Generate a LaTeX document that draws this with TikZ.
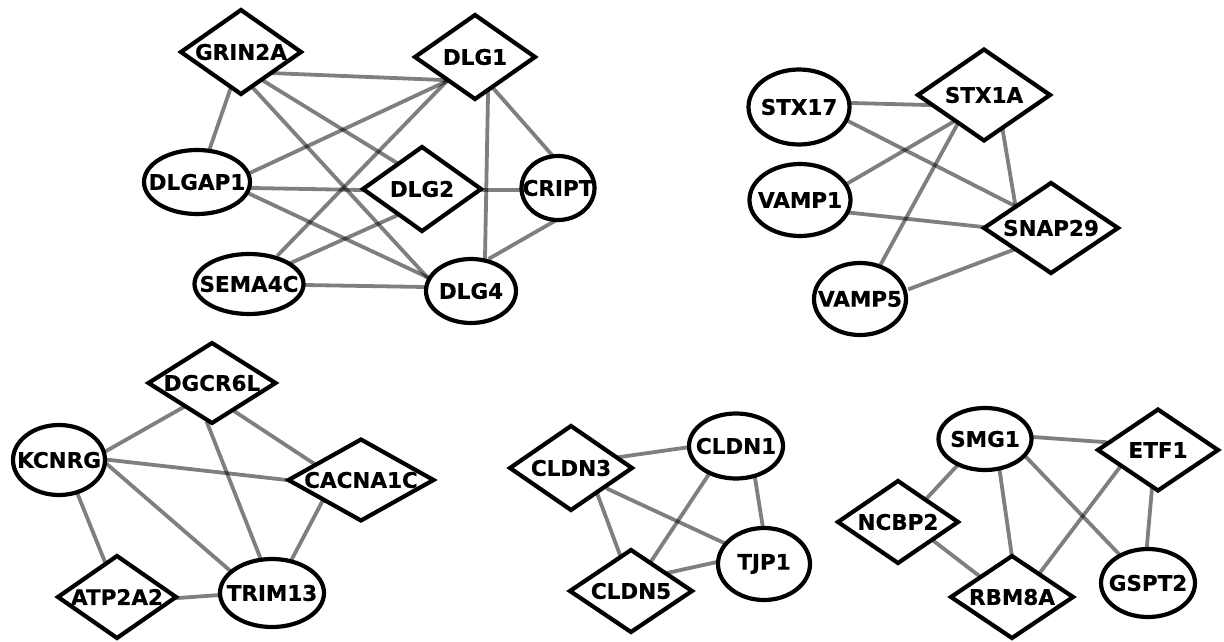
\documentclass[tikz,border=0pt]{standalone}
\usepackage{fontspec}
\setmainfont{DejaVu Sans}
\newfontfamily\genefont{DejaVu Sans}[FakeBold=0.5]
\usetikzlibrary{shapes.geometric,calc}
\pgfdeclarelayer{bg}
\pgfsetlayers{bg,main}
\newcommand{\zb}[1]{\makebox[0pt][c]{#1}}
\tikzset{
  gene/.style={draw=black, line width=4.2pt, fill=white, inner sep=0pt, outer sep=0pt,
    font=\genefont\fontsize{21.5}{24}\selectfont\bfseries},
  dia/.style={gene, diamond, minimum width=#1, minimum height=84pt},
  ell/.style={gene, ellipse, minimum width=#1, minimum height=64pt},
  link/.style={draw=black, draw opacity=0.5, line width=3.8pt, shorten <=-4pt, shorten >=-4pt}
}
\newcommand{\lk}[4]{\draw[link] ($(#1)+(#2)$) -- ($(#3)+(#4)$);}
\begin{document}
\begin{tikzpicture}[x=1pt,y=-1pt]
\useasboundingbox (0,0) rectangle (1224,642);
% group 1
\node[dia=120pt] (grin) at (241,52) {\zb{GRIN2A}};
\node[dia=120pt] (dlg1) at (475,57) {\zb{DLG1}};
\node[ell=106pt] (dlgap) at (197,182) {\zb{DLGAP1}};
\node[dia=118pt] (dlg2) at (422,189) {\zb{DLG2}};
\node[ell=73pt] (cript) at (558,188) {\zb{CRIPT}};
\node[ell=109pt, minimum height=60pt] (sema) at (249,284) {\zb{SEMA4C}};
\node[ell=90pt] (dlg4) at (471,291) {\zb{DLG4}};
% group 2
\node[ell=101pt, minimum height=75pt] (stx17) at (799,107) {\zb{STX17}};
\node[dia=132pt, minimum height=91pt] (stx1a) at (984,95) {\zb{STX1A}};
\node[ell=101pt, minimum height=72pt] (vamp1) at (800,200) {\zb{VAMP1}};
\node[dia=134pt, minimum height=90pt] (snap) at (1051,228) {\zb{SNAP29}};
\node[ell=92pt, minimum height=72pt] (vamp5) at (860,299) {\zb{VAMP5}};
% group 3
\node[dia=127pt, minimum height=80pt] (dgcr) at (212,383) {\zb{DGCR6L}};
\node[ell=92pt, minimum height=70pt] (kcnrg) at (59,460) {\zb{KCNRG}};
\node[dia=145pt, minimum height=81pt] (cacna) at (361,480) {\zb{CACNA1C}};
\node[dia=118pt, minimum height=82pt] (atp) at (117,597) {\zb{ATP2A2}};
\node[ell=104pt, minimum height=68pt] (trim) at (272,593) {\zb{TRIM13}};
% group 4
\node[dia=122pt] (cldn3) at (571,468) {\zb{CLDN3}};
\node[ell=94pt, minimum height=65pt] (cldn1) at (736,446) {\zb{CLDN1}};
\node[ell=92pt, minimum height=72pt] (tjp1) at (764,564) {\zb{TJP1}};
\node[dia=122pt, minimum height=82pt] (cldn5) at (631,591) {\zb{CLDN5}};
% group 5
\node[ell=93pt, minimum height=62pt] (smg1) at (985,439) {\zb{SMG1}};
\node[dia=120pt, minimum height=81pt] (etf1) at (1158,450) {\zb{ETF1}};
\node[dia=120pt, minimum height=82pt] (ncbp2) at (898,522) {\zb{NCBP2}};
\node[dia=122pt, minimum height=82pt] (rbm8a) at (1012,597) {\zb{RBM8A}};
\node[ell=94pt, minimum height=68pt] (gspt2) at (1148,583) {\zb{GSPT2}};
\begin{pgfonlayer}{bg}
% group 1 edges
\lk{grin}{29,21}{dlg1}{-32,23}
\lk{grin}{-11,38}{dlgap}{13,-34}
\lk{grin}{21,28}{dlg2}{-25,-26}
\lk{grin}{12,36}{dlg4}{-44,-14}
\lk{dlg1}{-30,25}{dlgap}{55,-10}
\lk{dlg1}{-30,26}{sema}{31,-31}
\lk{dlg1}{13,38}{dlg4}{14,-33}
\lk{dlg1}{18,31}{cript}{-6,-33}
\lk{dlgap}{55,6}{dlg2}{-60,1}
\lk{dlgap}{55,13}{dlg4}{-44,-14}
\lk{dlg2}{61,1}{cript}{-33,2}
\lk{dlg2}{-24,26}{sema}{44,-22}
\lk{sema}{56,1}{dlg4}{-46,-4}
\lk{cript}{-5,34}{dlg4}{21,-34}
% group 2 edges
\lk{stx17}{53,-4}{stx1a}{-57,10}
\lk{stx17}{51,15}{snap}{-38,-23}
\lk{stx1a}{-31,27}{vamp1}{50,-18}
\lk{stx1a}{-27,30}{vamp5}{22,-37}
\lk{stx1a}{19,37}{snap}{-36,-25}
\lk{vamp1}{53,13}{snap}{-68,-1}
\lk{vamp5}{52,-11}{snap}{-38,22}
% group 3 edges
\lk{dgcr}{-30,25}{kcnrg}{49,-10}
\lk{dgcr}{-4,42}{trim}{-12,-36}
\lk{dgcr}{25,30}{cacna}{-48,-17}
\lk{kcnrg}{51,0}{cacna}{-74,0}
\lk{kcnrg}{49,5}{trim}{-45,-25}
\lk{kcnrg}{19,35}{atp}{-12,-35}
\lk{cacna}{-39,22}{trim}{21,-36}
\lk{atp}{61,1}{trim}{-52,2}
% group 4 edges
\lk{cldn3}{49,-11}{cldn1}{-46,1}
\lk{cldn3}{39,22}{tjp1}{-42,-22}
\lk{cldn3}{26,25}{cldn5}{-11,-36}
\lk{cldn1}{-23,22}{cldn5}{19,-28}
\lk{cldn1}{19,32}{tjp1}{-1,-36}
\lk{cldn5}{36,-18}{tjp1}{-47,-2}
% group 5 edges
\lk{smg1}{48,-2}{etf1}{-55,-8}
\lk{smg1}{-30,29}{ncbp2}{29,-24}
\lk{smg1}{15,34}{rbm8a}{0,-40}
\lk{smg1}{42,19}{gspt2}{-31,-31}
\lk{etf1}{-38,17}{rbm8a}{30,-27}
\lk{etf1}{-6,38}{gspt2}{-1,-38}
\lk{ncbp2}{37,20}{rbm8a}{-34,-22}
\end{pgfonlayer}
\end{tikzpicture}
\end{document}
